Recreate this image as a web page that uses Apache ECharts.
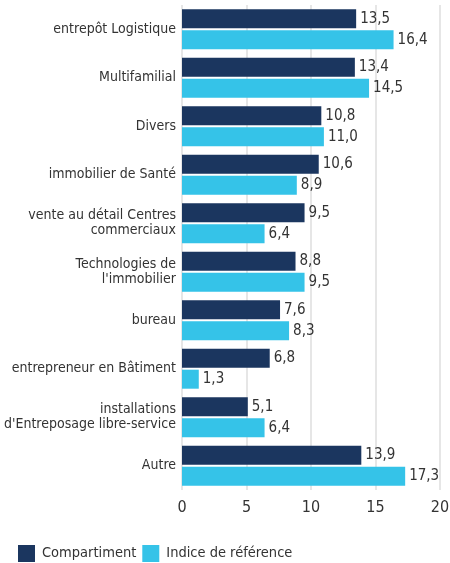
<!DOCTYPE html>
<html>
<head>
<meta charset="utf-8">
<script src="https://cdn.jsdelivr.net/npm/echarts@6/dist/echarts.min.js"></script>
<style>
  html, body { margin: 0; padding: 0; background: #fff; }
  #chart { width: 450px; height: 563px; }
</style>
</head>
<body>
<div id="chart"></div>
<script>
var categories = [
  'entrepôt Logistique',
  'Multifamilial',
  'Divers',
  'immobilier de Santé',
  'vente au détail Centres\ncommerciaux',
  'Technologies de\nl\'immobilier',
  'bureau',
  'entrepreneur en Bâtiment',
  'installations\nd\'Entreposage libre-service',
  'Autre'
];
var compartiment = [13.5, 13.4, 10.8, 10.6, 9.5, 8.8, 7.6, 6.8, 5.1, 13.9];
var indice = [16.4, 14.5, 11.0, 8.9, 6.4, 9.5, 8.3, 1.3, 6.4, 17.3];

var font = '"DejaVu Sans Condensed", "Liberation Sans Narrow", sans-serif';
var chart = echarts.init(document.getElementById('chart'));

// valeurs avec virgule décimale
function fmt(p) {
  return p.value.toFixed(1).replace('.', ',');
}

var option = {
  animation: false,
  textStyle: { fontFamily: font },
  grid: { left: 182, right: 10, top: 5, bottom: 73, outerBoundsMode: 'none', containLabel: false },
  legend: {
    left: 18,
    bottom: 1,
    padding: 0,
    itemWidth: 17,
    itemHeight: 17,
    itemGap: 6,
    icon: 'rect',
    textStyle: { color: '#333', fontSize: 14.5, fontFamily: font, padding: [0, 0, 0, 2] },
    data: ['Compartiment', 'Indice de référence']
  },
  xAxis: {
    type: 'value',
    min: 0,
    max: 20,
    interval: 5,
    axisLine: { show: false },
    axisTick: { show: false },
    axisLabel: { color: '#333', fontSize: 16, margin: 10 },
    splitLine: { lineStyle: { color: '#e6e6e6', width: 2 } }
  },
  yAxis: {
    type: 'category',
    inverse: true,
    data: categories,
    axisLine: { show: false },
    axisTick: { show: false },
    axisLabel: { color: '#333', fontSize: 14, lineHeight: 15, margin: 6, padding: [3, 0, 0, 0] }
  },
  series: [
    {
      name: 'Compartiment',
      type: 'bar',
      data: compartiment,
      barWidth: 19,
      barGap: '10%',
      itemStyle: { color: '#1b365f' },
      label: { show: true, position: 'right', formatter: fmt, color: '#333', fontSize: 15, distance: 4 }
    },
    {
      name: 'Indice de référence',
      type: 'bar',
      data: indice,
      barWidth: 19,
      itemStyle: { color: '#35c3e8' },
      label: { show: true, position: 'right', formatter: fmt, color: '#333', fontSize: 15, distance: 4 }
    }
  ]
};
chart.setOption(option);
</script>
</body>
</html>
